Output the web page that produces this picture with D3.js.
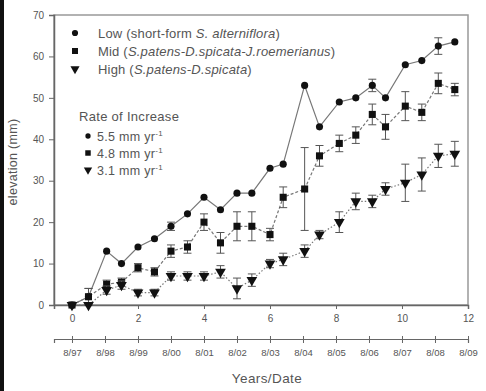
<!DOCTYPE html>
<html><head><meta charset="utf-8">
<script src="https://cdn.jsdelivr.net/npm/d3@7"></script>
<style>body{margin:0;background:#fff}svg{display:block;font-family:"Liberation Sans",Arial,sans-serif}</style>
</head><body><svg id="c" width="486" height="391"></svg>
<script>
const times = [0,0.5,1.05,1.5,2,2.5,3,3.5,4,4.5,5,5.45,6,6.4,7.05,7.5,8.1,8.6,9.1,9.5,10.1,10.6,11.1,11.6];
const lowVals = [0,2,13,10,14,16,19,22,26,23,27,27,33,34,53,43,49,50,53,50,58,59,62.5,63.5];
const lowErr  = [0,2,0.5,0.5,0.5,0.5,1,0.5,0.5,0.5,0.5,0.5,0.5,0.5,0.5,0.5,0.5,0.5,1.5,0.5,0.5,0.5,2,0.5];
const midVals = [0,2,5,5.5,9,8,13,14,20,15,19,19,17,26,28,36,39,41,46,43,48,46.5,53.5,52];
const midErr  = [0,2,1,1,1,1,1.5,1.5,2,2.5,3.5,3.5,1.5,2.5,10,2.5,2,2,2.5,3,3.5,2,2.5,1.5];
const highVals= [0,0,3.6,4.8,3,3,7,7,7,8,4,6,10,11,13,17,20,25,25,28,29.5,31.5,36,36.5];
const highErr = [0,0,1,1,0.8,0.8,1,1,1,1.5,2.5,1.5,1,1.5,1.5,1,2.5,2,1.5,1.5,4.5,4,2.8,3];
const yTicks = [0,10,20,30,40,50,60,70];
const xTicks = [0,2,4,6,8,10,12];
const dateLabels = ["8/97","8/98","8/99","8/00","8/01","8/02","8/03","8/04","8/05","8/06","8/07","8/08","8/09"];

const svg = d3.select("#c");
const L=54,R=468,T=15,B=305;
const x = d3.scaleLinear().domain([-0.545,12]).range([L,R]);
const y = d3.scaleLinear().domain([0,70]).range([B,T]);
const txt="#555", ax="#666";
const FONT="Liberation Sans, Arial";

svg.append("rect").attr("x",0).attr("y",0).attr("width",4).attr("height",391).attr("fill","#111");

// frame
svg.append("rect").attr("x",L).attr("y",T).attr("width",R-L).attr("height",B-T)
  .attr("fill","none").attr("stroke","#999").attr("stroke-width",1.5);

// y axis
const ya = svg.append("g").attr("transform",`translate(${L},0)`)
  .call(d3.axisLeft(y).tickValues(yTicks).tickSize(5).tickPadding(5));
ya.select(".domain").attr("stroke",ax).attr("stroke-width",1.5);
ya.selectAll("line").attr("stroke",ax);
ya.selectAll("text").attr("fill",txt).attr("font-size",10).attr("font-family",FONT);

// x axis
const xa = svg.append("g").attr("transform",`translate(0,${B})`)
  .call(d3.axisBottom(x).tickValues(xTicks).tickSize(4).tickPadding(6));
xa.select(".domain").attr("stroke",ax).attr("stroke-width",1.5);
xa.selectAll("line").attr("stroke",ax);
xa.selectAll("text").attr("fill",txt).attr("font-size",10).attr("font-family",FONT);

// date axis
const da = svg.append("g").attr("transform",`translate(0,339)`)
  .call(d3.axisBottom(x).tickValues(d3.range(dateLabels.length)).tickFormat((d,i)=>dateLabels[i]).tickSize(4).tickPadding(6));
da.select(".domain").attr("stroke",ax).attr("stroke-width",1.2);
da.selectAll("line").attr("stroke",ax).attr("y1",-3);
da.selectAll("text").attr("fill",txt).attr("font-size",9.5).attr("font-family",FONT);

svg.append("text").attr("x",267).attr("y",383).attr("text-anchor","middle")
  .attr("fill",txt).attr("font-size",13.5).attr("letter-spacing",0.4).text("Years/Date");
svg.append("text").attr("transform","translate(17,162) rotate(-90)").attr("text-anchor","middle")
  .attr("fill",txt).attr("font-size",12.5).attr("letter-spacing",0.3).text("elevation (mm)");

const series = [
  {vals:lowVals, err:lowErr, dash:null, sym:d3.symbolCircle, size:40},
  {vals:midVals, err:midErr, dash:"3,2", sym:d3.symbolSquare, size:50},
  {vals:highVals,err:highErr,dash:"1.5,2", sym:d3.symbolTriangle, size:50, flip:true}
];
const line = d3.line().x(d=>x(d[0])).y(d=>y(d[1]));
series.forEach(s=>{
  const pts = times.map((t,i)=>[t,s.vals[i],s.err[i]]);
  svg.append("path").datum(pts).attr("d",line).attr("fill","none")
    .attr("stroke","#777").attr("stroke-width",1.2).attr("stroke-dasharray",s.dash);
  const eb = svg.append("g").attr("stroke","#555").attr("stroke-width",1);
  pts.filter(p=>p[2]>0.6).forEach(p=>{
    eb.append("line").attr("x1",x(p[0])).attr("x2",x(p[0])).attr("y1",y(p[1]-p[2])).attr("y2",y(p[1]+p[2]));
    [p[1]-p[2],p[1]+p[2]].forEach(v=>eb.append("line").attr("x1",x(p[0])-4).attr("x2",x(p[0])+4).attr("y1",y(v)).attr("y2",y(v)));
  });
  svg.append("g").selectAll("path").data(pts).join("path")
    .attr("d",d3.symbol().type(s.sym).size(s.size))
    .attr("transform",d=>`translate(${x(d[0])},${y(d[1])})${s.flip?" rotate(180)":""}`)
    .attr("fill","#111");
});

// legend
const leg = [
  [33, d3.symbolCircle, 30, false, [["Low (short-form ",false],["S. alterniflora",true],[")",false]]],
  [51, d3.symbolSquare, 36, false, [["Mid (",false],["S.patens-D.spicata-J.roemerianus",true],[")",false]]],
  [69, d3.symbolTriangle, 36, true, [["High (",false],["S.patens-D.spicata",true],[")",false]]]
];
leg.forEach(([yy,sym,sz,flip,parts])=>{
  svg.append("path").attr("d",d3.symbol().type(sym).size(sz)()).attr("fill","#111")
    .attr("transform",`translate(75,${yy})${flip?" rotate(180)":""}`);
  const t = svg.append("text").attr("x",98).attr("y",yy+4.5).attr("fill",txt).attr("font-size",13).attr("letter-spacing",0.2);
  parts.forEach(([s,it])=>t.append("tspan").attr("font-style",it?"italic":"normal").text(s));
});
svg.append("text").attr("x",79).attr("y",121).attr("fill",txt).attr("font-size",13).attr("letter-spacing",0.3).text("Rate of Increase");
const rates = [[136,d3.symbolCircle,22,false,"5.5"],[153,d3.symbolSquare,30,false,"4.8"],[170,d3.symbolTriangle,30,true,"3.1"]];
rates.forEach(([yy,sym,sz,flip,r])=>{
  svg.append("path").attr("d",d3.symbol().type(sym).size(sz)()).attr("fill","#111")
    .attr("transform",`translate(88,${yy})${flip?" rotate(180)":""}`);
  const t = svg.append("text").attr("x",97).attr("y",yy+4.5).attr("fill",txt).attr("font-size",12.5).attr("letter-spacing",0.3);
  t.append("tspan").text(r+" mm yr");
  t.append("tspan").attr("dy",-5).attr("font-size",8).text("-1");
});
</script></body></html>
